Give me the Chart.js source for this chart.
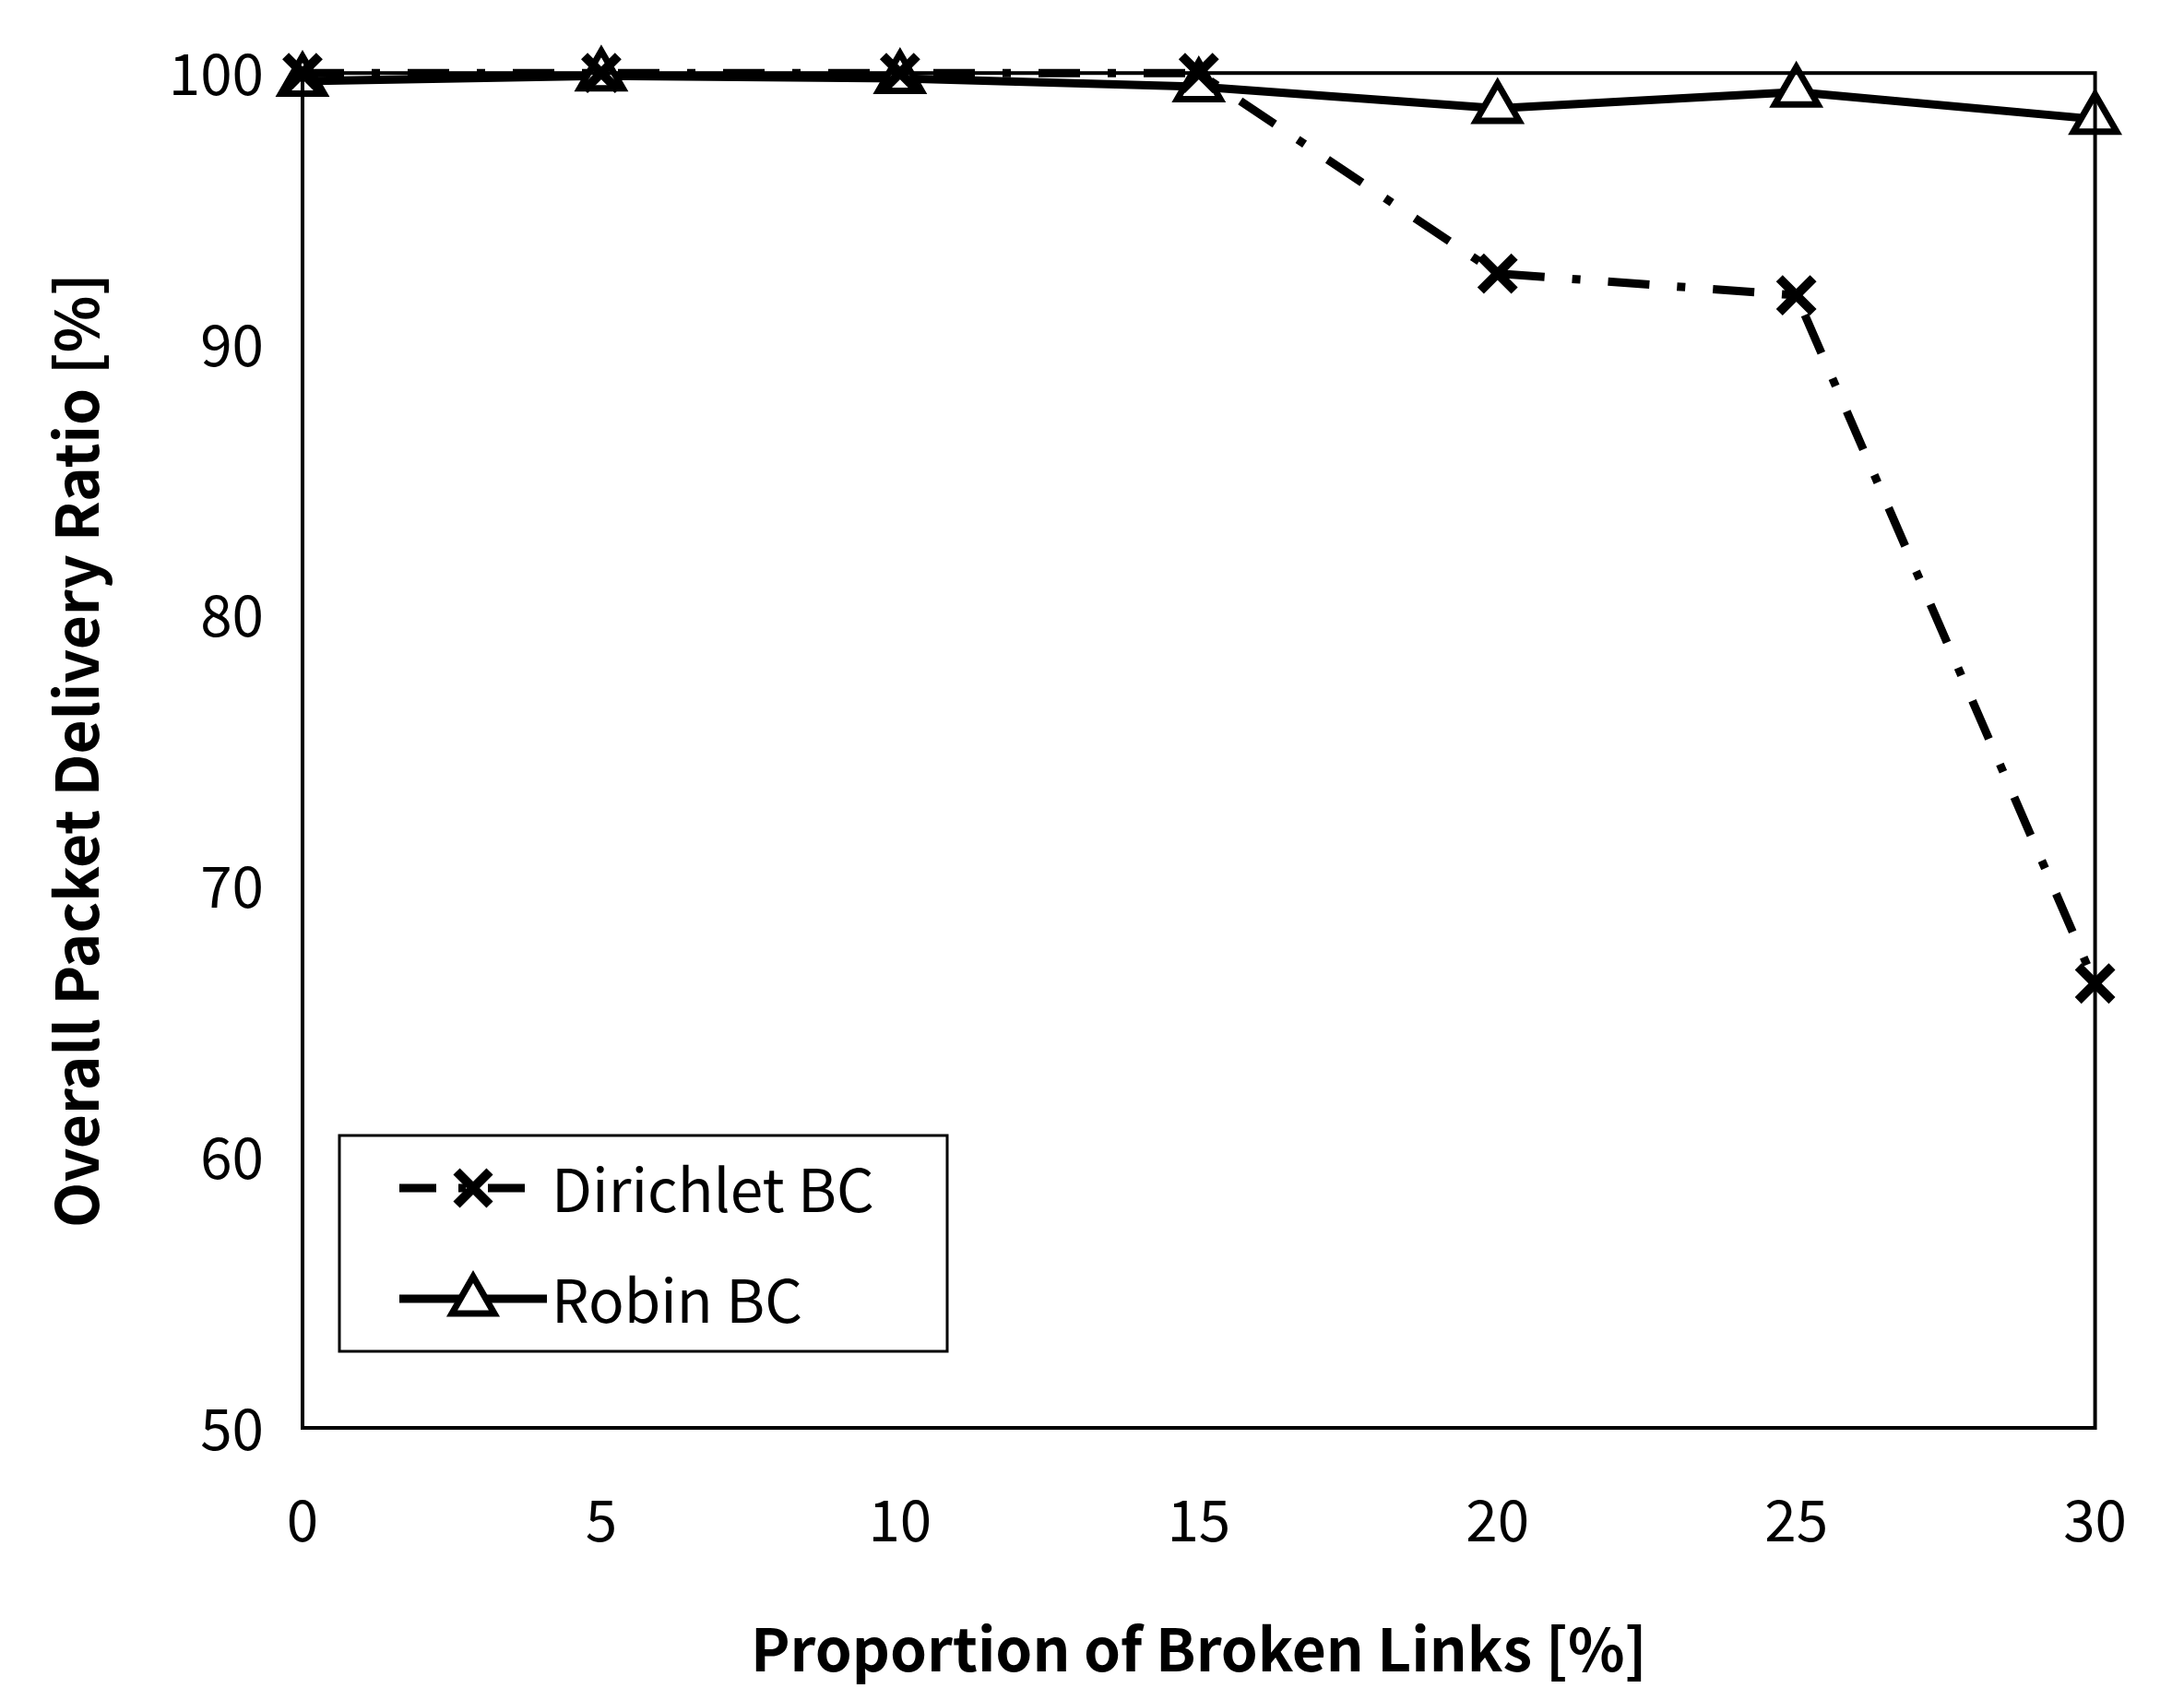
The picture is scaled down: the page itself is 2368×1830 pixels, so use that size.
<!DOCTYPE html>
<html><head><meta charset="utf-8">
<script src="https://cdn.jsdelivr.net/npm/chart.js@4"></script>
<style>html,body{margin:0;background:#fff}#w{width:2368px;height:1830px}</style>
</head><body><div id="w"><canvas id="c"></canvas></div>
<script>
const xValues=[0,5,10,15,20,25,30];
const dirichlet=[100,100,100,100,92.6,91.8,66.4];
const robin=[99.7,99.9,99.8,99.5,98.7,99.3,98.3];
const FONT='"Noto Sans CJK KR","Open Sans",sans-serif';
const dash=[45,30,9,30];
const frame={id:'frame',afterDraw(ch){const a=ch.chartArea,c=ch.ctx;c.save();c.strokeStyle='#000';c.lineWidth=4;c.strokeRect(a.left,a.top,a.right-a.left,a.bottom-a.top);
const x=368,y=1231,w=659,h=234;c.lineWidth=3;c.fillStyle='#fff';c.fillRect(x,y,w,h);c.strokeRect(x,y,w,h);
const rows=[['Dirichlet BC',1],['Robin BC',0]];
rows.forEach((r,i)=>{const yy=y+57+i*120;c.lineWidth=9;c.setLineDash(r[1]?[40,24,8,24]:[]);c.beginPath();c.moveTo(x+65,yy);c.lineTo(x+225,yy);c.stroke();c.setLineDash([]);
if(r[1]){c.lineWidth=10;c.beginPath();c.moveTo(x+127,yy-18);c.lineTo(x+163,yy+18);c.moveTo(x+163,yy-18);c.lineTo(x+127,yy+18);c.stroke();}
else{c.lineWidth=7;c.fillStyle='#fff';c.beginPath();c.moveTo(x+145,yy-24);c.lineTo(x+168,yy+16);c.lineTo(x+122,yy+16);c.closePath();c.fill();c.stroke();}
c.fillStyle='#000';c.font='64px '+FONT;c.textBaseline='middle';c.fillText(r[0],x+230,yy+2);});
c.restore();}};
new Chart(document.getElementById('c'),{type:'line',
data:{datasets:[
{label:'Dirichlet BC',data:xValues.map((x,i)=>({x,y:dirichlet[i]})),borderColor:'#000',borderWidth:9,borderDash:dash,pointStyle:'crossRot',pointRadius:26,pointBorderWidth:10,pointBorderColor:'#000',fill:false},
{label:'Robin BC',data:xValues.map((x,i)=>({x,y:robin[i]})),borderColor:'#000',borderWidth:9,pointStyle:'triangle',pointRadius:27,pointBorderWidth:7,pointBorderColor:'#000',pointBackgroundColor:'#fff',fill:false}]},
options:{responsive:true,maintainAspectRatio:false,animation:false,clip:false,
layout:{padding:{top:53,right:56,left:40,bottom:0}},
plugins:{legend:{display:false},tooltip:{enabled:false}},
scales:{
x:{type:'linear',min:0,max:30,ticks:{stepSize:5,color:'#000',font:{size:62,family:FONT},padding:62},grid:{display:false,drawTicks:false},border:{color:'#000',width:4},
 title:{display:true,text:'Proportion of Broken Links [%]',color:'#000',font:{size:64,weight:'bold',family:FONT},padding:{top:0}},afterFit(s){s.height=282;}},
y:{min:50,max:100,ticks:{stepSize:10,color:'#000',font:{size:62,family:FONT},padding:42},grid:{display:false,drawTicks:false},border:{color:'#000',width:4},
 title:{display:true,text:'Overall Packet Delivery Ratio [%]',color:'#000',font:{size:64,weight:'bold',family:FONT},padding:{bottom:10}},afterFit(s){s.width=288;}}}},
plugins:[frame]});
</script></body></html>
